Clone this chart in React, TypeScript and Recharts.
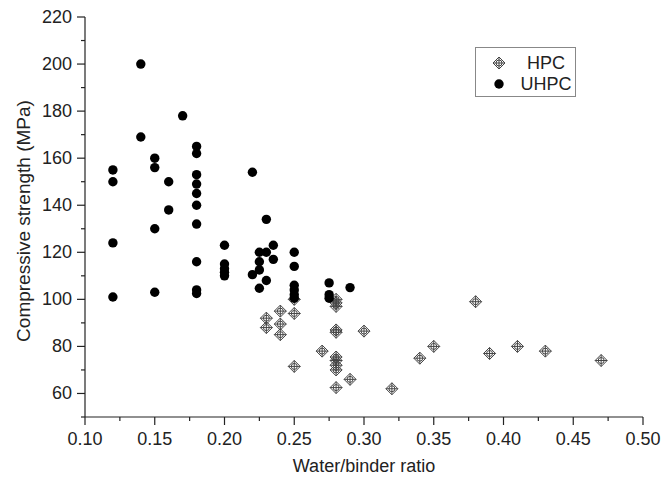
import React from 'react';
import { ScatterChart, Scatter, XAxis, YAxis, Legend } from 'recharts';

// water/binder ratio and compressive strength
const hpcWb = [0.23, 0.23, 0.24, 0.24, 0.24, 0.25, 0.25, 0.25, 0.27, 0.28, 0.28, 0.28, 0.28, 0.28, 0.28, 0.28, 0.28, 0.28, 0.28, 0.29, 0.30, 0.32, 0.34, 0.35, 0.38, 0.39, 0.41, 0.43, 0.47];
const hpcStrength = [92, 88, 95, 89.5, 85, 100, 94, 71.5, 78, 100, 98.5, 97, 87, 86, 75.5, 74, 72, 70, 62.5, 66, 86.5, 62, 75, 80, 99, 77, 80, 78, 74];

const uhpcWb = [
  0.12, 0.12, 0.12, 0.12,
  0.14, 0.14,
  0.15, 0.15, 0.15, 0.15,
  0.16, 0.16,
  0.17,
  0.18, 0.18, 0.18, 0.18, 0.18, 0.18, 0.18, 0.18, 0.18, 0.18,
  0.20, 0.20, 0.20, 0.20, 0.20,
  0.22, 0.22,
  0.225, 0.225, 0.225, 0.225,
  0.23, 0.23, 0.23,
  0.235, 0.235,
  0.25, 0.25, 0.25, 0.25, 0.25, 0.25,
  0.275, 0.275, 0.275,
  0.29,
];
const uhpcStrength = [
  155, 150, 124, 101,
  200, 169,
  160, 156, 130, 103,
  150, 138,
  178,
  165, 162, 153, 149, 145, 140, 132, 116, 104, 102.5,
  123, 115, 113, 111.5, 110,
  154, 110.5,
  120, 116, 112.5, 104.7,
  134, 120, 108,
  123, 117,
  120, 114, 106, 104, 102, 100.5,
  107, 102, 100.5,
  105,
];

const xMajorTicks = [0.1, 0.15, 0.2, 0.25, 0.3, 0.35, 0.4, 0.45, 0.5];
const xMinorTicks = [0.125, 0.175, 0.225, 0.275, 0.325, 0.375, 0.425, 0.475];
const yMajorTicks = [60, 80, 100, 120, 140, 160, 180, 200, 220];
const yMinorTicks = [50, 70, 90, 110, 130, 150, 170, 190, 210];

const hpcData = hpcWb.map((x, i) => ({ x, y: hpcStrength[i] }));
const uhpcData = uhpcWb.map((x, i) => ({ x, y: uhpcStrength[i] }));
const xTicks = [...xMajorTicks, ...xMinorTicks].sort((a, b) => a - b);
const yTicks = [...yMajorTicks, ...yMinorTicks].sort((a, b) => a - b);

const FONT = '"Liberation Sans", Arial, sans-serif';
const INK = '#222';
const TICK = 8;
const GAP = 5;

const XTick = ({ x, y, payload }: any) => {
  const major = xMajorTicks.includes(payload.value);
  const y0 = y - TICK - GAP;
  return (
    <g>
      <line x1={x} x2={x} y1={y0} y2={y0 + (major ? TICK : 4)} stroke={INK} strokeWidth={1.2} />
      {major && (
        <text x={x} y={y0 + 22} textAnchor="middle" dominantBaseline="central" fontFamily={FONT} fontSize={18} fill={INK}>
          {payload.value.toFixed(2)}
        </text>
      )}
    </g>
  );
};

const YTick = ({ x, y, payload }: any) => {
  const major = yMajorTicks.includes(payload.value);
  const x0 = x + TICK + GAP;
  return (
    <g>
      <line x1={x0} x2={x0 - (major ? TICK : 4)} y1={y} y2={y} stroke={INK} strokeWidth={1.2} />
      {major && (
        <text x={x0 - 13} y={y} textAnchor="end" dominantBaseline="central" fontFamily={FONT} fontSize={18} fill={INK}>
          {payload.value}
        </text>
      )}
    </g>
  );
};

const HpcMark = ({ cx, cy }: any) => (
  <g stroke="#444" strokeWidth={1} fill="none">
    <path d={`M${cx} ${cy - 6}L${cx + 6} ${cy}L${cx} ${cy + 6}L${cx - 6} ${cy}Z`} />
    <path d={`M${cx - 6} ${cy}H${cx + 6}M${cx} ${cy - 6}V${cy + 6}`} />
    <circle cx={cx} cy={cy} r={3} />
  </g>
);

const UhpcMark = ({ cx, cy }: any) => <circle cx={cx} cy={cy} r={4.7} fill="#000" />;

const LegendBox = () => (
  <div style={{ width: 101, height: 50, border: '1px solid #888', boxSizing: 'border-box', background: '#fff' }}>
    <svg width={99} height={48}>
      <HpcMark cx={23} cy={15} />
      <text x={70} y={15} textAnchor="middle" dominantBaseline="central" fontFamily={FONT} fontSize={18} fill={INK}>HPC</text>
      <UhpcMark cx={23} cy={36} />
      <text x={70} y={36} textAnchor="middle" dominantBaseline="central" fontFamily={FONT} fontSize={18} fill={INK}>UHPC</text>
    </svg>
  </div>
);

const YTitle = ({ viewBox }: any) => {
  const cx = 23;
  const cy = viewBox.y + viewBox.height / 2 + 4;
  return (
    <text x={cx} y={cy} transform={`rotate(-90 ${cx} ${cy})`} textAnchor="middle" dominantBaseline="central" fontFamily={FONT} fontSize={19} fill={INK}>
      Compressive strength (MPa)
    </text>
  );
};

const XTitle = ({ viewBox }: any) => {
  const cx = viewBox.x + viewBox.width / 2;
  return (
    <text x={cx} y={466} textAnchor="middle" dominantBaseline="central" fontFamily={FONT} fontSize={18} fill={INK}>
      Water/binder ratio
    </text>
  );
};

export default function App() {
  return (
    <div style={{ position: 'absolute', left: 0, top: 0, background: '#fff' }}>
      <ScatterChart width={662} height={479} margin={{ top: 17, right: 19, bottom: 0, left: 0 }}>
        <XAxis
          type="number"
          dataKey="x"
          domain={[0.1, 0.5]}
          ticks={xTicks}
          interval={0}
          tick={<XTick />}
          tickLine={false}
          tickSize={TICK}
          tickMargin={GAP}
          axisLine={{ stroke: INK, strokeWidth: 1.2 }}
          height={62}
          allowDataOverflow
          label={<XTitle />}
        />
        <XAxis xAxisId="top" orientation="top" type="number" domain={[0.1, 0.5]} height={0} tick={false} tickLine={false} axisLine={{ stroke: INK, strokeWidth: 1.2 }} />
        <YAxis
          type="number"
          dataKey="y"
          domain={[50, 220]}
          ticks={yTicks}
          interval={0}
          tick={<YTick />}
          tickLine={false}
          tickSize={TICK}
          tickMargin={GAP}
          axisLine={{ stroke: INK, strokeWidth: 1.2 }}
          width={85}
          allowDataOverflow
          label={<YTitle />}
        />
        <YAxis yAxisId="right" orientation="right" type="number" domain={[50, 220]} width={0} tick={false} tickLine={false} axisLine={{ stroke: INK, strokeWidth: 1.2 }} />
        <Legend
          layout="vertical"
          align="center"
          verticalAlign="middle"
          content={<LegendBox />}
          wrapperStyle={{ position: 'absolute', left: 475, top: 47, width: 101, height: 50 }}
        />
        <Scatter name="HPC" data={hpcData} shape={<HpcMark />} isAnimationActive={false} />
        <Scatter name="UHPC" data={uhpcData} shape={<UhpcMark />} isAnimationActive={false} />
      </ScatterChart>
    </div>
  );
}
